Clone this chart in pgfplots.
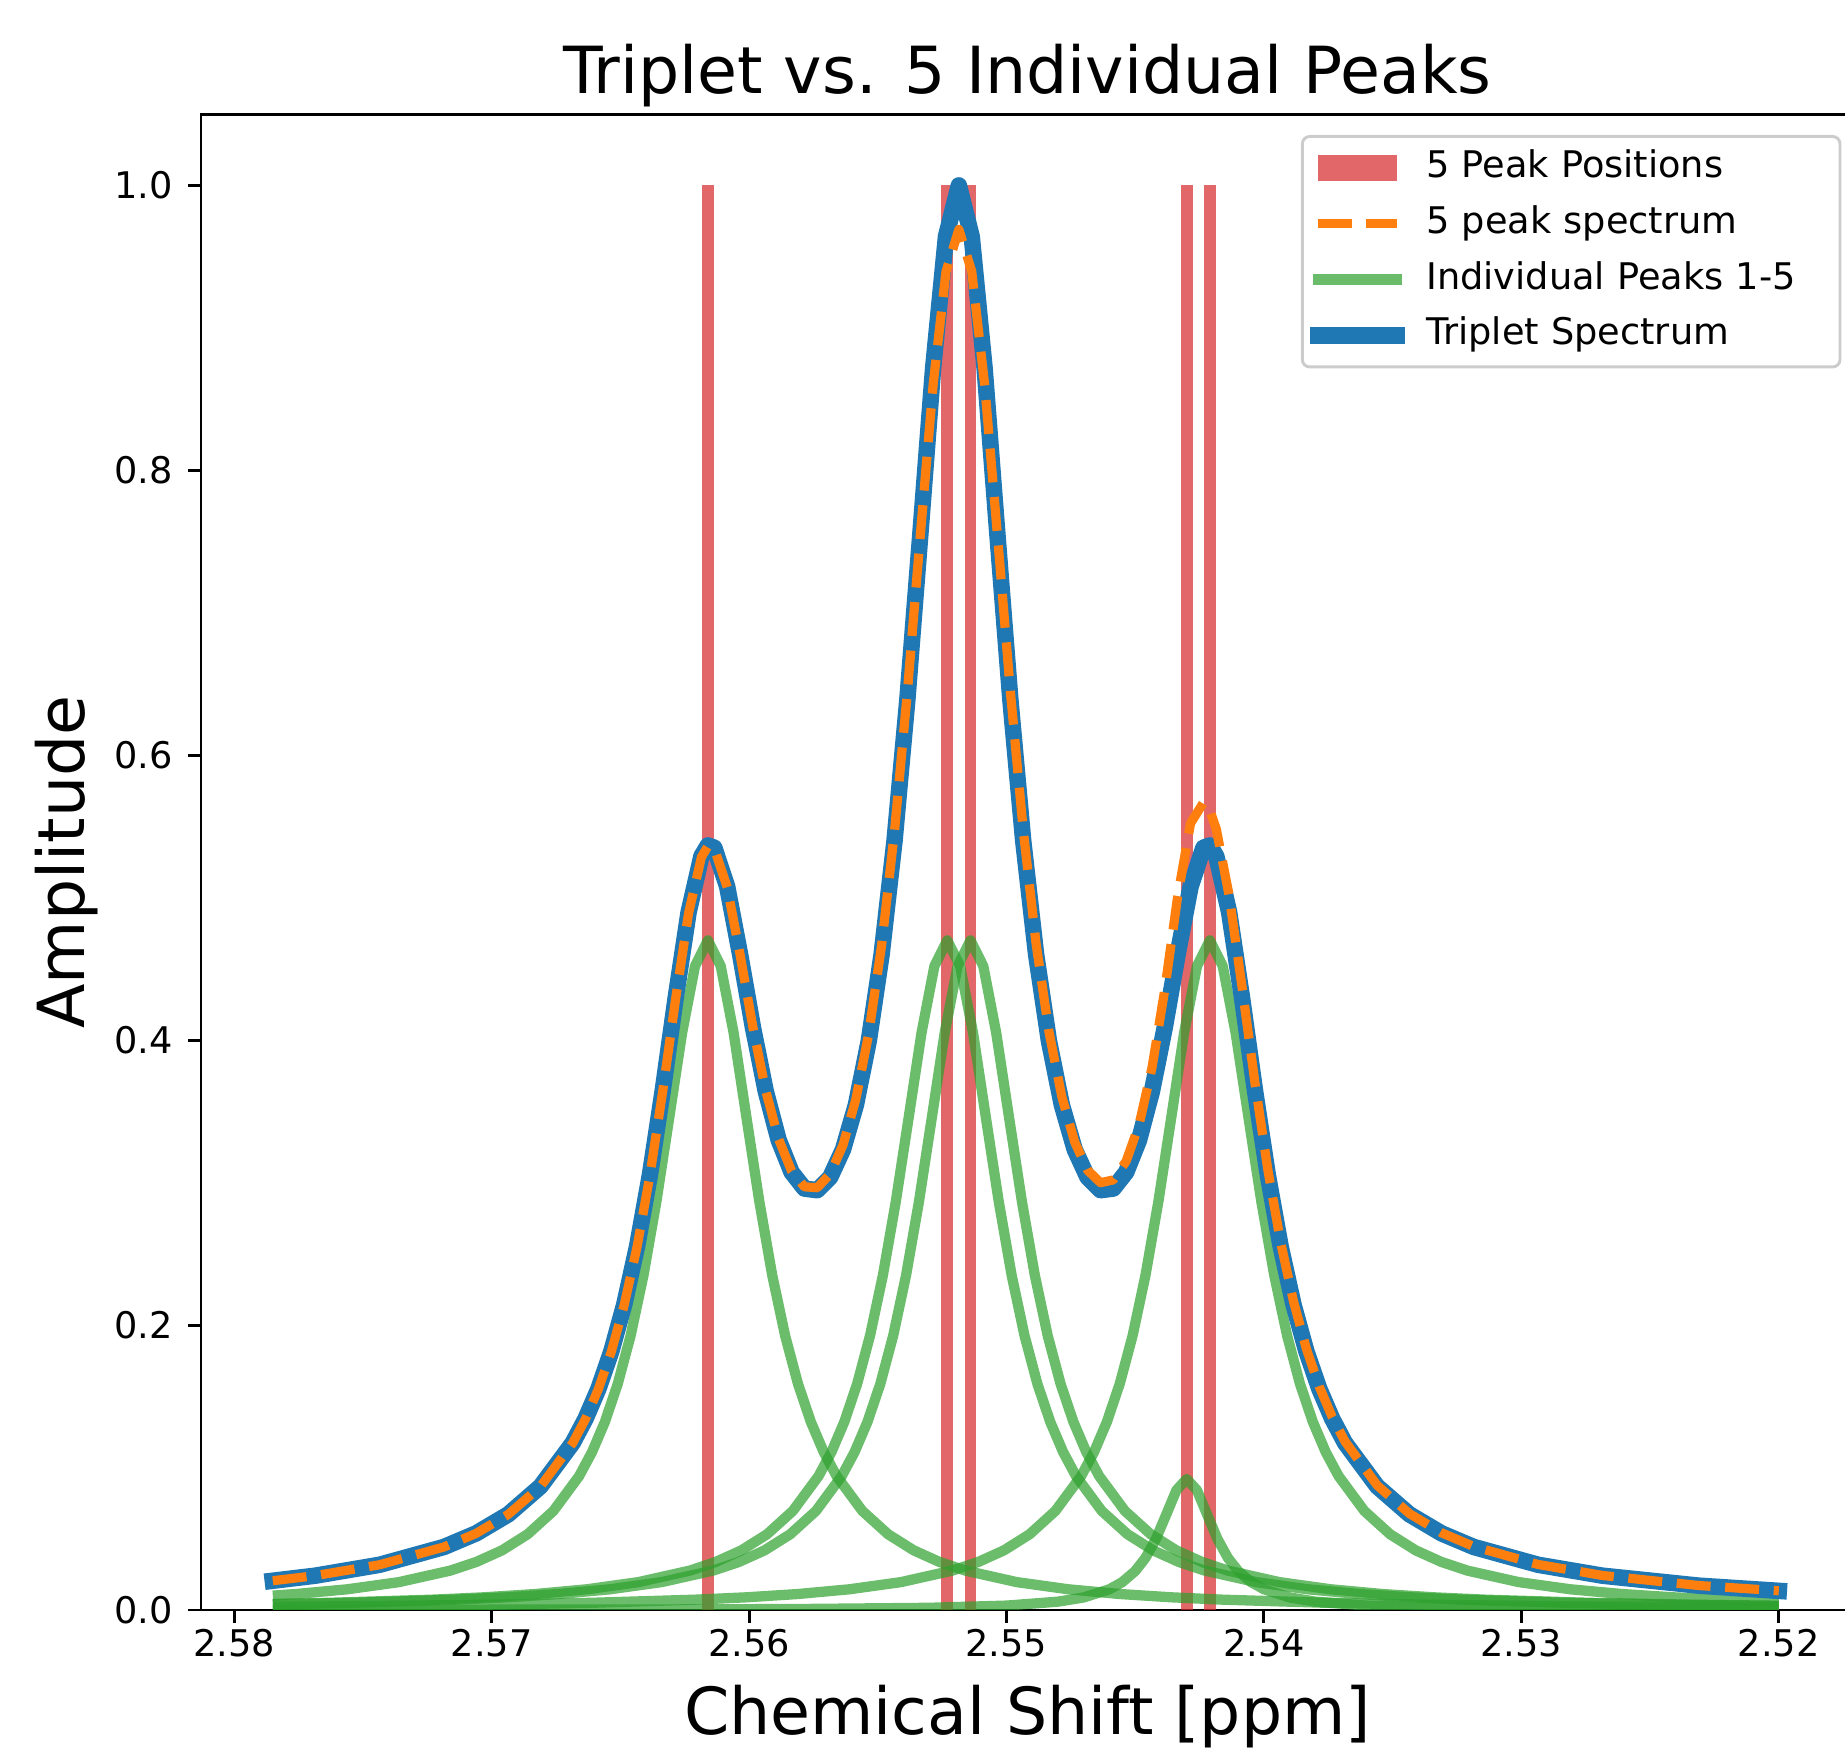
\documentclass[border=0pt]{standalone}
\usepackage{fontspec}
\setmainfont{DejaVu Sans}
\usepackage{pgfplots}
\pgfplotsset{compat=1.18}
\definecolor{tabblue}{RGB}{31,119,180}
\definecolor{taborange}{RGB}{255,127,14}
\definecolor{tabgreen}{RGB}{44,160,44}
\definecolor{tabred}{RGB}{214,39,40}
\definecolor{legedge}{gray}{0.8}
\begin{document}
\begin{tikzpicture}
\useasboundingbox (-54.77pt,-39.24pt) rectangle (447.96pt,438.69pt);
\clip (-54.77pt,-39.24pt) rectangle (447.96pt,438.69pt);
\begin{axis}[
  width=450.4pt, height=407.6pt, scale only axis,
  x dir=reverse,
  xmin=2.51708, xmax=2.58129,
  ymin=0, ymax=1.05,
  xtick={2.52,2.53,2.54,2.55,2.56,2.57,2.58},
  xticklabels={2.52,2.53,2.54,2.55,2.56,2.57,2.58},
  ytick={0,0.2,0.4,0.6,0.8,1.0},
  yticklabels={0.0,0.2,0.4,0.6,0.8,1.0},
  tick pos=left, tick align=outside,
  major tick length=3.5pt,
  every tick/.style={black, line width=0.8pt},
  axis line style={line width=0.8pt},
  ticklabel style={font=\fontsize{10}{12}\selectfont},
  xticklabel style={yshift=1.7pt},
  yticklabel style={xshift=-0.7pt},
  xlabel={Chemical Shift [ppm]},
  xlabel style={at={(0.5,-0.0832)}, anchor=base, font=\fontsize{17.7}{21}\selectfont},
  ylabel={Amplitude},
  ylabel style={at={(-0.0707,0.5)}, anchor=base, font=\fontsize{17.7}{21}\selectfont},
  legend cell align=left,
  legend style={at={(1,1)}, anchor=north east, xshift=-3.4pt, yshift=-5.7pt,
    draw=legedge, line width=0.8pt, rounded corners=2pt, fill=white,
    inner xsep=1.95pt, inner ysep=1pt, column sep=3.2pt, row sep=0pt,
    font=\fontsize{10}{12}\selectfont,
    nodes={inner sep=2.6pt, text height=7.6pt, text depth=2.4pt, text width=108.2pt, align=left}},
]
% red peak positions
\addplot[forget plot, tabred, opacity=0.7, line width=3.2pt] coordinates {(2.5616,0) (2.5616,1)};
\addplot[forget plot, tabred, opacity=0.7, line width=3.2pt] coordinates {(2.5523,0) (2.5523,1)};
\addplot[forget plot, tabred, opacity=0.7, line width=3.2pt] coordinates {(2.5514,0) (2.5514,1)};
\addplot[forget plot, tabred, opacity=0.7, line width=3.2pt] coordinates {(2.5430,0) (2.5430,1)};
\addplot[forget plot, tabred, opacity=0.7, line width=3.2pt] coordinates {(2.5421,0) (2.5421,1)};
% individual peaks
\addplot[forget plot, tabgreen, opacity=0.7, line width=2.8pt, line join=round] table {
x y
2.5785 0.01006
2.5776 0.01120
2.5756 0.01452
2.5736 0.01955
2.5716 0.02765
2.5706 0.03367
2.5696 0.04181
2.5686 0.05317
2.5676 0.06953
2.5666 0.09400
2.5661 0.11085
2.5656 0.13202
2.5651 0.15878
2.5646 0.19262
2.5641 0.23500
2.5636 0.28659
2.5631 0.34559
2.5626 0.40517
2.5621 0.45192
2.5616 0.47000
2.5611 0.45192
2.5606 0.40517
2.5601 0.34559
2.5596 0.28659
2.5591 0.23500
2.5586 0.19262
2.5581 0.15878
2.5576 0.13202
2.5571 0.11085
2.5566 0.09400
2.5556 0.06953
2.5546 0.05317
2.5536 0.04181
2.5526 0.03367
2.5516 0.02765
2.5496 0.01955
2.5476 0.01452
2.5456 0.01120
2.5436 0.00889
2.5416 0.00723
2.5376 0.00504
2.5336 0.00372
2.5296 0.00285
2.5256 0.00226
2.5200 0.00169
};
\addplot[forget plot, tabgreen, opacity=0.7, line width=2.8pt, line join=round] table {
x y
2.5785 0.00424
2.5763 0.00504
2.5723 0.00723
2.5703 0.00889
2.5683 0.01120
2.5663 0.01452
2.5643 0.01955
2.5623 0.02765
2.5613 0.03367
2.5603 0.04181
2.5593 0.05317
2.5583 0.06953
2.5573 0.09400
2.5568 0.11085
2.5563 0.13202
2.5558 0.15878
2.5553 0.19262
2.5548 0.23500
2.5543 0.28659
2.5538 0.34559
2.5533 0.40517
2.5528 0.45192
2.5523 0.47000
2.5518 0.45192
2.5513 0.40517
2.5508 0.34559
2.5503 0.28659
2.5498 0.23500
2.5493 0.19262
2.5488 0.15878
2.5483 0.13202
2.5478 0.11085
2.5473 0.09400
2.5463 0.06953
2.5453 0.05317
2.5443 0.04181
2.5433 0.03367
2.5423 0.02765
2.5403 0.01955
2.5383 0.01452
2.5363 0.01120
2.5343 0.00889
2.5323 0.00723
2.5283 0.00504
2.5243 0.00372
2.5200 0.00280
};
\addplot[forget plot, tabgreen, opacity=0.7, line width=2.8pt, line join=round] table {
x y
2.5785 0.00397
2.5754 0.00504
2.5714 0.00723
2.5694 0.00889
2.5674 0.01120
2.5654 0.01452
2.5634 0.01955
2.5614 0.02765
2.5604 0.03367
2.5594 0.04181
2.5584 0.05317
2.5574 0.06953
2.5564 0.09400
2.5559 0.11085
2.5554 0.13202
2.5549 0.15878
2.5544 0.19262
2.5539 0.23500
2.5534 0.28659
2.5529 0.34559
2.5524 0.40517
2.5519 0.45192
2.5514 0.47000
2.5509 0.45192
2.5504 0.40517
2.5499 0.34559
2.5494 0.28659
2.5489 0.23500
2.5484 0.19262
2.5479 0.15878
2.5474 0.13202
2.5469 0.11085
2.5464 0.09400
2.5454 0.06953
2.5444 0.05317
2.5434 0.04181
2.5424 0.03367
2.5414 0.02765
2.5394 0.01955
2.5374 0.01452
2.5354 0.01120
2.5334 0.00889
2.5314 0.00723
2.5274 0.00504
2.5234 0.00372
2.5200 0.00296
};
\addplot[forget plot, tabgreen, opacity=0.7, line width=2.8pt, line join=round] table {
x y
2.5785 0.00012
2.5730 0.00017
2.5630 0.00039
2.5580 0.00069
2.5530 0.00153
2.5500 0.00307
2.5480 0.00583
2.5470 0.00879
2.5460 0.01455
2.5455 0.01958
2.5450 0.02732
2.5446 0.03658
2.5442 0.04967
2.5438 0.06673
2.5434 0.08404
2.5430 0.09200
2.5426 0.08404
2.5422 0.06673
2.5418 0.04967
2.5414 0.03658
2.5410 0.02732
2.5405 0.01958
2.5400 0.01455
2.5390 0.00879
2.5380 0.00583
2.5360 0.00307
2.5330 0.00153
2.5280 0.00069
2.5230 0.00039
2.5200 0.00029
};
\addplot[forget plot, tabgreen, opacity=0.7, line width=2.8pt, line join=round] table {
x y
2.5785 0.00221
2.5781 0.00226
2.5741 0.00285
2.5701 0.00372
2.5661 0.00504
2.5621 0.00723
2.5601 0.00889
2.5581 0.01120
2.5561 0.01452
2.5541 0.01955
2.5521 0.02765
2.5511 0.03367
2.5501 0.04181
2.5491 0.05317
2.5481 0.06953
2.5471 0.09400
2.5466 0.11085
2.5461 0.13202
2.5456 0.15878
2.5451 0.19262
2.5446 0.23500
2.5441 0.28659
2.5436 0.34559
2.5431 0.40517
2.5426 0.45192
2.5421 0.47000
2.5416 0.45192
2.5411 0.40517
2.5406 0.34559
2.5401 0.28659
2.5396 0.23500
2.5391 0.19262
2.5386 0.15878
2.5381 0.13202
2.5376 0.11085
2.5371 0.09400
2.5361 0.06953
2.5351 0.05317
2.5341 0.04181
2.5331 0.03367
2.5321 0.02765
2.5301 0.01955
2.5281 0.01452
2.5261 0.01120
2.5241 0.00889
2.5221 0.00723
2.5200 0.00594
};
% triplet spectrum
\addplot[forget plot, tabblue, line width=4.5pt, line join=round, line cap=rect] table {
x y
2.5785 0.02051
2.57685 0.02407
2.57435 0.03173
2.57185 0.04423
2.5706 0.05378
2.56935 0.06715
2.5681 0.08677
2.56685 0.11725
2.56635 0.13429
2.56585 0.15532
2.56535 0.18150
2.56485 0.21426
2.56435 0.25517
2.56385 0.30548
2.56335 0.36497
2.56285 0.42972
2.56235 0.48961
2.56185 0.52906
2.5616 0.53662
2.56135 0.53505
2.56085 0.50771
2.56035 0.46038
2.55985 0.40899
2.55935 0.36403
2.55885 0.32988
2.55835 0.30731
2.55785 0.29579
2.55735 0.29465
2.55685 0.30366
2.55635 0.32323
2.55585 0.35449
2.55535 0.39932
2.55485 0.46022
2.55435 0.53977
2.55385 0.63905
2.55335 0.75427
2.55285 0.87160
2.55235 0.96407
2.55185 0.99990
2.55135 0.96407
2.55085 0.87160
2.55035 0.75427
2.54985 0.63905
2.54935 0.53977
2.54885 0.46022
2.54835 0.39932
2.54785 0.35449
2.54735 0.32323
2.54685 0.30366
2.54635 0.29465
2.54585 0.29579
2.54535 0.30731
2.54485 0.32988
2.54435 0.36403
2.54385 0.40899
2.54335 0.46038
2.54285 0.50771
2.54235 0.53505
2.5421 0.53662
2.54185 0.52906
2.54135 0.48961
2.54085 0.42972
2.54035 0.36497
2.53985 0.30548
2.53935 0.25517
2.53885 0.21426
2.53835 0.18150
2.53785 0.15532
2.53735 0.13429
2.53685 0.11725
2.5356 0.08677
2.53435 0.06715
2.5331 0.05378
2.53185 0.04423
2.52935 0.03173
2.52685 0.02407
2.5231 0.01706
2.5200 0.01341
};
% 5 peak spectrum
\addplot[forget plot, taborange, line width=2.5pt, dash pattern=on 9.25pt off 4pt, line join=round] table {
x y
2.5785 0.02051
2.57685 0.02408
2.57435 0.03174
2.57185 0.04422
2.5706 0.05376
2.56935 0.06713
2.5681 0.08673
2.56685 0.11717
2.56635 0.13419
2.56585 0.15520
2.56535 0.18134
2.56485 0.21406
2.56435 0.25491
2.56385 0.30516
2.56335 0.36456
2.56285 0.42922
2.56235 0.48905
2.56185 0.52848
2.5616 0.53605
2.56135 0.53451
2.56085 0.50731
2.56035 0.46017
2.55985 0.40901
2.55935 0.36430
2.55885 0.33042
2.55835 0.30818
2.55785 0.29704
2.55735 0.29638
2.55685 0.30601
2.55635 0.32637
2.55585 0.35861
2.55535 0.40459
2.55485 0.46660
2.55435 0.54659
2.55385 0.64429
2.55335 0.75382
2.55285 0.86005
2.55235 0.93941
2.55185 0.96907
2.55135 0.93954
2.55085 0.86032
2.55035 0.75423
2.54985 0.64486
2.54935 0.54735
2.54885 0.46758
2.54835 0.40585
2.54785 0.36021
2.54735 0.32842
2.54685 0.30868
2.54635 0.29993
2.54585 0.30188
2.54535 0.31504
2.54485 0.34065
2.54435 0.38043
2.54385 0.43556
2.54335 0.50100
2.54285 0.55215
2.54235 0.56671
2.5421 0.56133
2.54185 0.54816
2.54135 0.50128
2.54085 0.43728
2.54035 0.37019
2.53985 0.30926
2.53935 0.25802
2.53885 0.21649
2.53835 0.18329
2.53785 0.15678
2.53735 0.13551
2.53685 0.11828
2.5356 0.08748
2.53435 0.06767
2.5331 0.05417
2.53185 0.04454
2.52935 0.03194
2.52685 0.02422
2.5231 0.01715
2.5200 0.01348
};
% legend
\addlegendimage{legend image code/.code={\path[fill=tabred, fill opacity=0.7, draw=none, sharp corners] (0pt,-3.5pt) rectangle (21.5pt,3.5pt);}}
\addlegendentry{5 Peak Positions}
\addlegendimage{legend image code/.code={\draw[taborange, line width=2.5pt, sharp corners, dash pattern=on 9.25pt off 4pt] (0pt,0pt) -- (21.5pt,0pt);}}
\addlegendentry{5 peak spectrum}
\addlegendimage{legend image code/.code={\draw[tabgreen, draw opacity=0.7, line width=2.8pt, sharp corners, line cap=rect] (0pt,0pt) -- (21.5pt,0pt);}}
\addlegendentry{Individual Peaks 1-5}
\addlegendimage{legend image code/.code={\draw[tabblue, line width=4.5pt, sharp corners, line cap=rect] (0pt,0pt) -- (21.5pt,0pt);}}
\addlegendentry{Triplet Spectrum}
\end{axis}
\node[anchor=base, inner sep=0pt, font=\fontsize{17.7}{21}\selectfont] at (225.2pt,413.1pt) {Triplet vs. 5 Individual Peaks};
\end{tikzpicture}
\end{document}
